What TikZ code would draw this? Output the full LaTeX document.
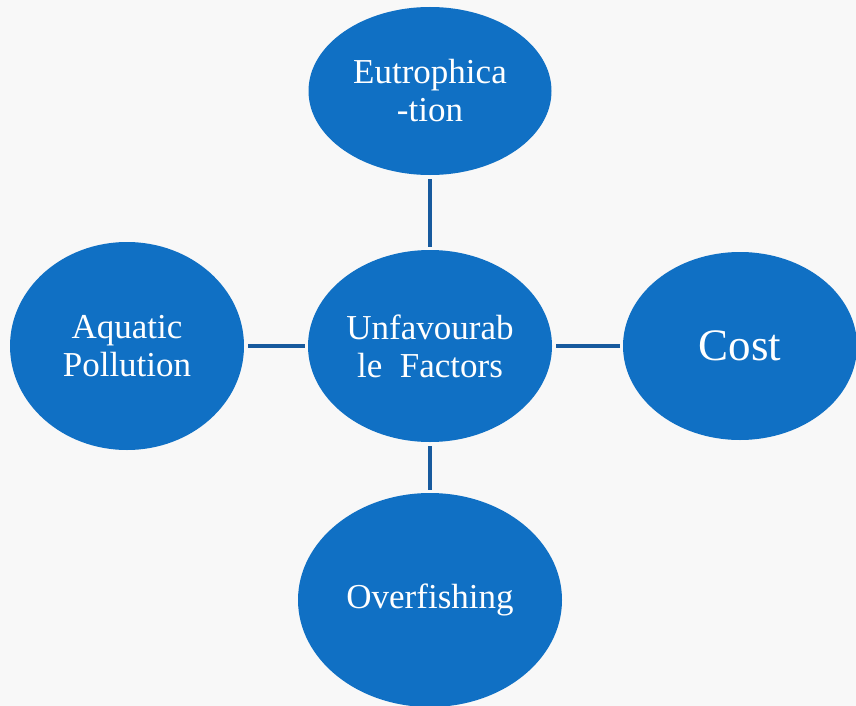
\documentclass[tikz,border=0pt]{standalone}
\usepackage{fontspec}
\setmainfont{Liberation Serif}
\usetikzlibrary{shapes.geometric}
\definecolor{bgcol}{HTML}{F8F8F8}
\definecolor{blobfill}{HTML}{1070C4}
\definecolor{linkcol}{HTML}{175A9E}
\tikzset{
  blob/.style={ellipse, fill=blobfill, draw=none, inner sep=0pt, text=white, align=center,
    font=\fontsize{35}{38}\selectfont},
  link/.style={draw=linkcol, line width=3.5pt, shorten <=4pt, shorten >=3pt}
}
\begin{document}
\begin{tikzpicture}[x=1pt,y=-1pt]
\useasboundingbox (0,0) rectangle (856,706);
\clip (0,0) rectangle (856,706);
\fill[bgcol] (0,0) rectangle (856,706);
\node[blob, minimum width=243pt, minimum height=168pt] (top) at (430,91) {Eutrophica\\-tion};
\node[blob, minimum width=244pt, minimum height=192pt] (mid) at (430,346) {Unfavourab\\le\ \ Factors};
\node[blob, minimum width=234pt, minimum height=208pt] (left) at (127,346) {Aquatic\\Pollution};
\node[blob, minimum width=234pt, minimum height=188pt, font=\fontsize{45}{48}\selectfont] (right) at (740,346) {Cost};
\node[blob, minimum width=264pt, minimum height=214pt] (bot) at (430,600) {Overfishing};
\draw[link] (top) -- (mid);
\draw[link] (left) -- (mid);
\draw[link] (mid) -- (right);
\draw[link] (mid) -- (bot);
\end{tikzpicture}
\end{document}
